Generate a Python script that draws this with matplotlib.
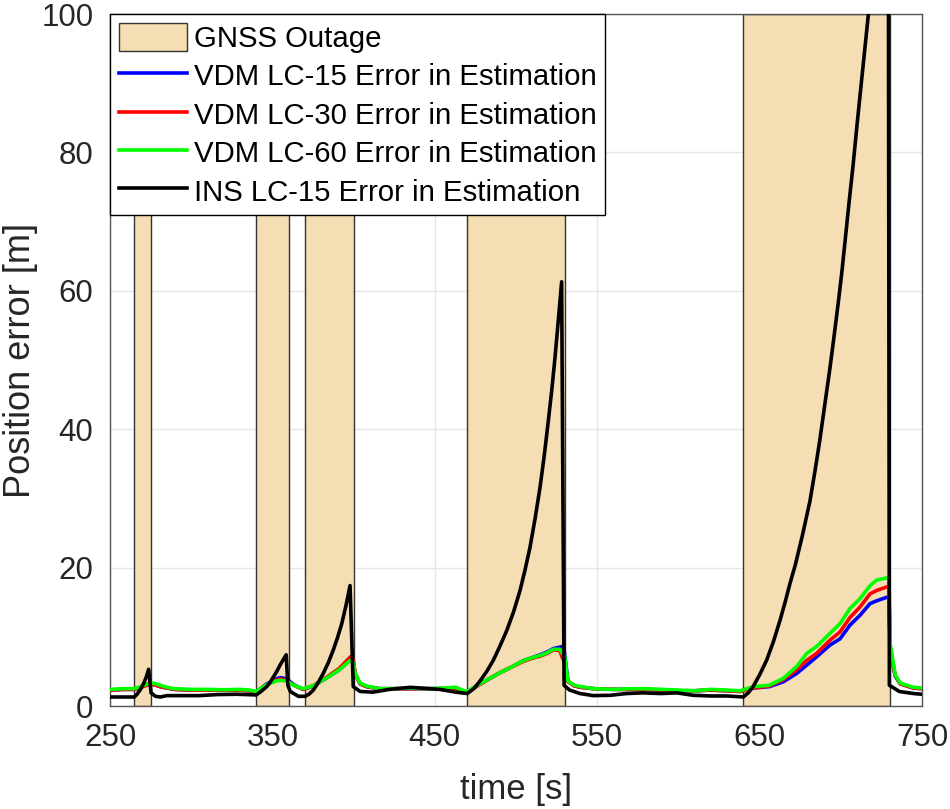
# position error of VDM/INS loosely coupled filters during GNSS outages

import matplotlib
matplotlib.use('Agg')
import matplotlib.pyplot as plt
from matplotlib.patches import Patch

plt.rcParams['font.family'] = ['Liberation Sans', 'DejaVu Sans']

# GNSS outage intervals [s]
outage_start = [265, 340, 370, 470, 640]
outage_end = [275, 360, 400, 530, 730]

# VDM error curves
vdm_time = [250, 258, 265, 270, 274, 277, 281, 285, 290, 300,
            310, 320, 330, 336, 340, 346, 352, 355, 359, 363,
            369, 375, 383, 391, 398, 399.7, 401, 404, 408, 416,
            425, 435, 445, 455, 463, 468, 470, 476, 484, 490,
            497, 504, 510, 515, 520, 523, 527, 528.5, 529.8, 532,
            536, 540, 548, 560, 570, 580, 590, 600, 610, 620,
            630, 638, 646, 656, 664.6, 672.8, 679, 685.1, 693.3, 699.5,
            705.7, 711.8, 718, 722.1, 728.2, 729.6, 730.4, 733.5, 736.6, 744.8,
            750]
vdm_lc15 = [2.3, 2.4, 2.4, 2.8, 3.2, 3.1, 2.8, 2.6, 2.4, 2.3,
            2.3, 2.3, 2.3, 2.2, 2.0, 3.1, 3.9, 4.1, 3.9, 3.1,
            2.4, 2.9, 4.0, 5.2, 6.7, 6.5, 4.6, 3.2, 2.8, 2.5,
            2.5, 2.5, 2.5, 2.5, 2.6, 2.1, 2.0, 2.9, 4.0, 4.8,
            5.6, 6.5, 7.0, 7.4, 7.9, 8.3, 8.5, 8.6, 7.8, 3.6,
            2.9, 2.7, 2.5, 2.4, 2.4, 2.4, 2.3, 2.2, 2.2, 2.3,
            2.2, 2.1, 2.6, 2.8, 3.5, 4.7, 5.9, 7.1, 8.8, 9.7,
            11.7, 13.1, 14.8, 15.2, 15.7, 15.8, 8.0, 4.3, 3.2, 2.6,
            2.5]
vdm_lc30 = [2.3, 2.4, 2.4, 2.8, 3.1, 3.1, 2.8, 2.6, 2.4, 2.3,
            2.3, 2.3, 2.3, 2.2, 2.0, 3.0, 3.7, 3.9, 3.7, 3.0,
            2.4, 2.9, 4.1, 5.4, 7.1, 6.8, 4.7, 3.2, 2.8, 2.5,
            2.5, 2.5, 2.5, 2.5, 2.6, 2.1, 2.0, 2.9, 4.0, 4.8,
            5.6, 6.4, 6.9, 7.2, 7.7, 8.1, 8.0, 7.0, 6.4, 3.5,
            2.9, 2.7, 2.5, 2.4, 2.4, 2.4, 2.3, 2.2, 2.2, 2.3,
            2.2, 2.1, 2.6, 2.9, 3.8, 5.2, 6.6, 7.6, 9.5, 10.7,
            12.8, 14.3, 16.2, 16.7, 17.2, 17.3, 8.5, 4.4, 3.2, 2.6,
            2.5]
vdm_lc60 = [2.4, 2.5, 2.5, 2.9, 3.3, 3.3, 3.0, 2.7, 2.5, 2.4,
            2.4, 2.35, 2.4, 2.3, 2.1, 3.0, 3.6, 3.7, 3.6, 3.0,
            2.5, 2.9, 4.0, 5.2, 6.6, 6.3, 4.7, 3.3, 2.9, 2.5,
            2.5, 2.6, 2.5, 2.6, 2.7, 2.2, 2.1, 3.0, 4.0, 4.8,
            5.6, 6.5, 7.0, 7.3, 7.8, 8.2, 8.2, 7.6, 7.4, 3.6,
            3.0, 2.8, 2.5, 2.4, 2.5, 2.5, 2.4, 2.3, 2.2, 2.4,
            2.3, 2.2, 2.8, 3.0, 4.0, 5.7, 7.6, 8.6, 10.5, 11.9,
            14.1, 15.5, 17.4, 18.2, 18.5, 18.6, 9.0, 4.5, 3.3, 2.7,
            2.6]

# INS-only error curve
ins_time = [250, 258, 265, 267, 269, 271, 272.5, 273.8, 275.3, 278,
            281, 285, 295, 305, 316, 328, 340, 343, 346.5, 348.5,
            350.6, 352.7, 354.7, 356.7, 358.5, 359.5, 361, 366, 370, 372.5,
            375.2, 378, 381.3, 384.5, 387.5, 390, 392.7, 395.3, 397.8, 399.8,
            404, 412, 422, 435, 441, 453, 463, 470, 474, 477.8,
            482, 486, 490, 494.3, 498.5, 502.5, 505.5, 508.6, 511.7, 514.8,
            517.4, 519.9, 522, 524, 526, 528.1, 529.6, 533, 539.4, 547.6,
            558, 568, 578, 589, 599, 609, 620, 630, 640, 643,
            646, 650, 654.3, 658.5, 662.6, 665.7, 668.7, 672, 676.5, 681,
            684, 687, 690, 693.3, 696, 698.5, 700.6, 702.6, 705.1, 707.5,
            710, 713.5, 717, 723, 729.2, 729.9, 731.3, 736, 744.8, 750]
ins_lc15 = [1.3, 1.3, 1.3, 1.8, 2.5, 3.4, 4.3, 5.3, 1.9, 1.4,
            1.3, 1.5, 1.5, 1.5, 1.65, 1.7, 1.6, 2.1, 2.8, 3.4,
            4.2, 5.0, 5.9, 6.7, 7.4, 3.0, 2.1, 1.4, 1.4, 1.7,
            2.3, 3.3, 4.7, 6.3, 8.1, 9.8, 11.9, 14.5, 17.4, 2.8,
            2.1, 2.0, 2.4, 2.7, 2.6, 2.4, 2.0, 1.8, 2.5, 3.6,
            5.0, 6.6, 8.6, 10.9, 13.6, 16.7, 19.6, 22.9, 27.0, 31.6,
            36.2, 41.2, 45.6, 50.3, 55.6, 61.3, 3.0, 2.3, 1.8, 1.5,
            1.55, 1.8, 1.9, 1.8, 1.9, 1.55, 1.45, 1.45, 1.3, 1.9,
            2.8, 4.5, 6.6, 9.3, 12.4, 15.0, 17.7, 20.4, 24.8, 29.6,
            33.8, 38.3, 43.3, 48.8, 53.7, 58.4, 62.6, 67.1, 72.8, 78.0,
            84, 92, 100, 114, 128, 3.0, 2.8, 2.1, 1.8, 1.7]

fig = plt.figure(figsize=(9.5, 8.09), dpi=100)
ax = fig.add_axes([110/950, 1 - 706/809, 812/950, 692/809])

for s, e in zip(outage_start, outage_end):
    ax.axvspan(s, e, facecolor='wheat', edgecolor='#333333', lw=1.0, zorder=1)

ax.plot(vdm_time, vdm_lc15, color='#0000ff', lw=2.6, zorder=2)
ax.plot(vdm_time, vdm_lc30, color='#ff0000', lw=2.6, zorder=3)
ax.plot(vdm_time, vdm_lc60, color='#00ff00', lw=2.6, zorder=4)
ax.plot(ins_time, ins_lc15, color='black', lw=2.6, zorder=5)

ax.set_xlim(250, 750)
ax.set_ylim(0, 100)
ax.set_xticks([250, 350, 450, 550, 650, 750])
ax.set_yticks([0, 20, 40, 60, 80, 100])
ax.set_axisbelow(True)
ax.grid(True, color='#e6e6e6', lw=1.0)
ax.tick_params(length=0, labelsize=22.5, colors='#262626', pad=12)
for sp in ax.spines.values():
    sp.set_color('#555555')
    sp.set_linewidth(1.0)

ax.set_xlabel('time [s]', fontsize=25, color='#262626', labelpad=15)
ax.set_ylabel('Position error [m]', fontsize=26, color='#262626', labelpad=2)

handles = [Patch(facecolor='wheat', edgecolor='#333333', lw=1.0),
           plt.Line2D([], [], color='#0000ff', lw=2.6),
           plt.Line2D([], [], color='#ff0000', lw=2.6),
           plt.Line2D([], [], color='#00ff00', lw=2.6),
           plt.Line2D([], [], color='black', lw=2.6)]
labels = ['GNSS Outage',
          'VDM LC-15 Error in Estimation',
          'VDM LC-30 Error in Estimation',
          'VDM LC-60 Error in Estimation',
          'INS LC-15 Error in Estimation']
leg = ax.legend(handles, labels, loc='upper left', bbox_to_anchor=(0, 1),
                borderaxespad=0, fontsize=21.2, fancybox=False, framealpha=1,
                edgecolor='black', handlelength=2.3, handleheight=1.1,
                handletextpad=0.24, borderpad=0.3, labelspacing=0.28)
leg.get_frame().set_linewidth(1.0)
leg.set_zorder(10)

fig.savefig('out.png', dpi=100)
